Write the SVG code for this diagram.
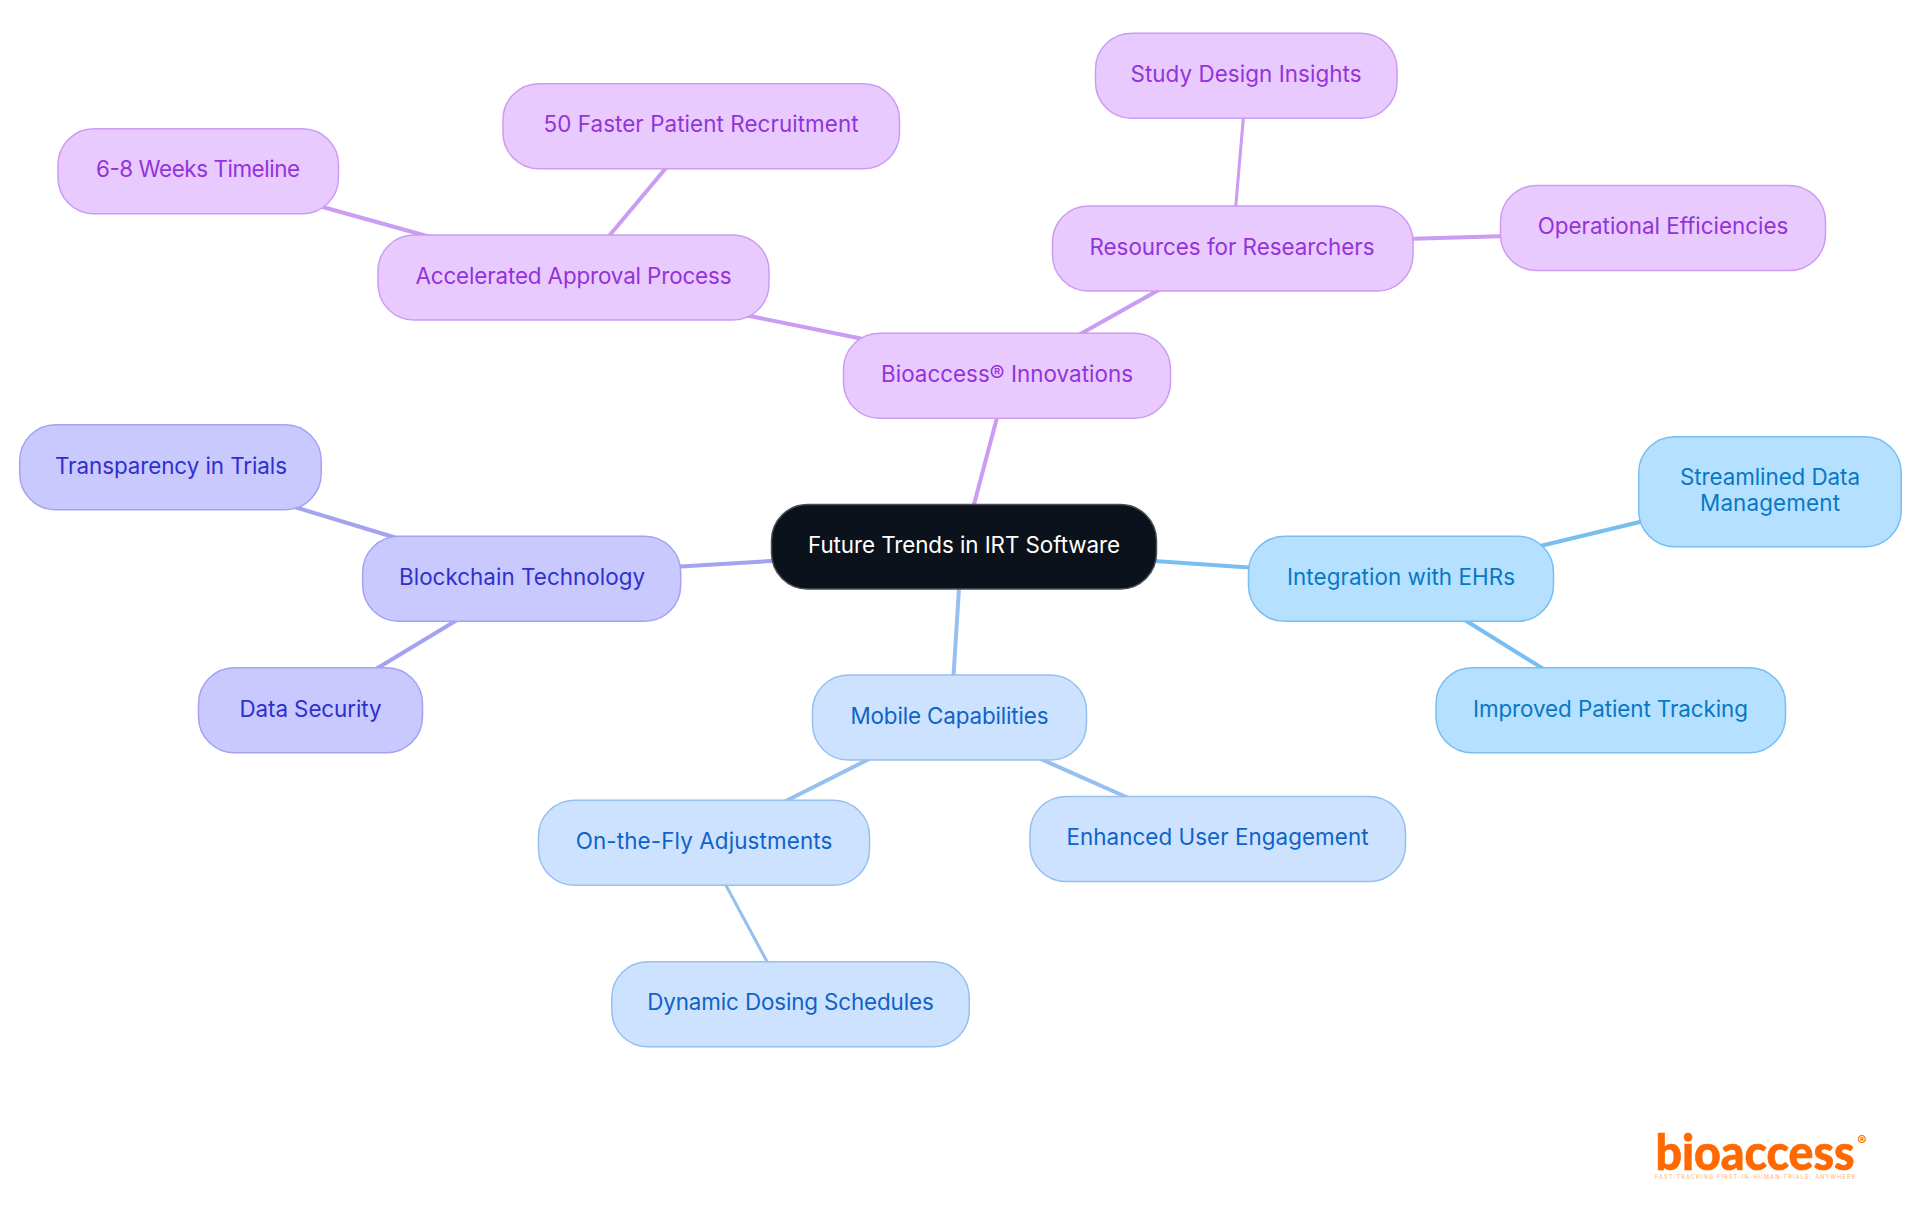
<svg xmlns="http://www.w3.org/2000/svg" width="1920" height="1215" viewBox="0 0 1920 1215">
<style>
text{font-family:"Inter","Noto Sans",sans-serif;font-size:22.4px;font-weight:400;text-anchor:middle}
.c path{fill:none;stroke-width:4}
.n rect{stroke-width:1.5}
.p rect{fill:#e8caff;stroke:#cb9cf2}.p text{fill:#9333d9}
.v rect{fill:#c9c9ff;stroke:#a3a3f0}.v text{fill:#3030cc}
.b rect{fill:#cce2ff;stroke:#96c0f0}.b text{fill:#1062c8}
.s rect{fill:#b5e0ff;stroke:#78bef0}.s text{fill:#0878c4}
#logo text{fill:#ff6900}
</style>
<g class="c" id="connectors">
<g stroke="#cb9cf2"><path d="M972 512L999 410"/><path d="M868 340L740 314"/><path d="M1075 337L1164 287"/><path d="M604 242L671 162"/><path d="M434 238L312 204"/><path d="M1235 215L1244 110" style="stroke-width:3"/><path d="M1405 239L1508 236"/></g>
<g stroke="#a3a3f0"><path d="M780 560.500L672 567"/><path d="M400 539L288 505"/><path d="M462 617L371 672"/></g>
<g stroke="#96c0f0"><path d="M959.500 580L953 684"/><path d="M875 756L780 804"/><path d="M1034 756L1133 800"/><path d="M722 878L771 969" style="stroke-width:3"/></g>
<g stroke="#78bef0"><path d="M1147 560.500L1256 568"/><path d="M1532 548L1648 520"/><path d="M1460 617L1550 673"/></g>
</g>
<g id="n0"><rect x="771.500" y="504.500" width="385" height="84.500" rx="36" fill="#0c121b" stroke="#4a4f57" stroke-width="1.500"/><text x="964" y="552.500" fill="#fff" textLength="312">Future Trends in IRT Software</text></g>
<g id="n1" class="n p"><rect x="843.500" y="333.300" width="327" height="85" rx="36"/><text x="1007" y="381.500" textLength="252">Bioaccess® Innovations</text></g>
<g id="n2" class="n p"><rect x="378" y="235" width="391" height="85" rx="36"/><text x="573.500" y="283.500" textLength="316">Accelerated Approval Process</text></g>
<g id="n3" class="n p"><rect x="503" y="83.700" width="396.500" height="85" rx="36"/><text x="701" y="132" textLength="315">50 Faster Patient Recruitment</text></g>
<g id="n4" class="n p"><rect x="58" y="128.700" width="280.500" height="85" rx="36"/><text x="198" y="177" textLength="204">6-8 Weeks Timeline</text></g>
<g id="n5" class="n p"><rect x="1052.500" y="206" width="360.500" height="85" rx="36"/><text x="1232" y="254.500" textLength="285">Resources for Researchers</text></g>
<g id="n6" class="n p"><rect x="1095.500" y="33.300" width="301.500" height="85" rx="36"/><text x="1246" y="82" textLength="231">Study Design Insights</text></g>
<g id="n7" class="n p"><rect x="1500.500" y="185.500" width="325" height="85" rx="36"/><text x="1663" y="234" textLength="250.500">Operational Efficiencies</text></g>
<g id="n8" class="n v"><rect x="362.700" y="536.300" width="318" height="85" rx="36"/><text x="522" y="584.500" textLength="246">Blockchain Technology</text></g>
<g id="n9" class="n v"><rect x="19.700" y="424.700" width="301.500" height="85" rx="36"/><text x="171" y="473.500" textLength="232">Transparency in Trials</text></g>
<g id="n10" class="n v"><rect x="198.500" y="667.700" width="224" height="85" rx="36"/><text x="310.500" y="716.500" textLength="142">Data Security</text></g>
<g id="n11" class="n s"><rect x="1248.500" y="536.300" width="305" height="85" rx="36"/><text x="1401" y="584.500" textLength="228">Integration with EHRs</text></g>
<g id="n12" class="n s"><rect x="1638.700" y="436.700" width="262.500" height="110" rx="36"/><text x="1770" y="485" textLength="180">Streamlined Data</text><text x="1770" y="511" textLength="140">Management</text></g>
<g id="n13" class="n s"><rect x="1436" y="667.700" width="349.500" height="85" rx="36"/><text x="1610.500" y="716.500" textLength="275">Improved Patient Tracking</text></g>
<g id="n14" class="n b"><rect x="812.500" y="675" width="274" height="85" rx="36"/><text x="949.500" y="724" textLength="198">Mobile Capabilities</text></g>
<g id="n15" class="n b"><rect x="538.500" y="800.300" width="331" height="85" rx="36"/><text x="704" y="849" textLength="256.600">On-the-Fly Adjustments</text></g>
<g id="n16" class="n b"><rect x="1030" y="796.500" width="375.500" height="85" rx="36"/><text x="1217.500" y="845" textLength="302">Enhanced User Engagement</text></g>
<g id="n17" class="n b"><rect x="611.800" y="961.700" width="357.500" height="85" rx="36"/><text x="790.500" y="1010" textLength="286.500">Dynamic Dosing Schedules</text></g>
<g id="logo"><text x="1755" y="1169.500" style="font-family:Lato,sans-serif;font-size:50px;font-weight:900;stroke:#ff6900;stroke-width:.7" textLength="199" lengthAdjust="spacingAndGlyphs">bioaccess</text><text x="1862" y="1146" style="font-size:14px;font-weight:700">®</text><text x="1755" y="1179" style="font-size:5.500px;fill:#ffb27a" textLength="200">FAST-TRACKING FIRST-IN-HUMAN TRIALS, ANYWHERE</text></g>
</svg>
